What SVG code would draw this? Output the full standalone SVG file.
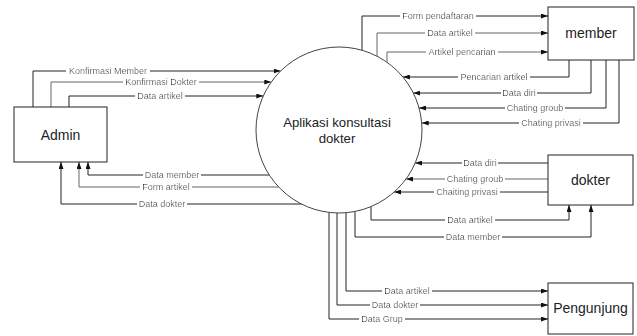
<svg xmlns="http://www.w3.org/2000/svg" width="637" height="336" viewBox="0 0 637 336">
<style>
.box{fill:#fff;stroke:#222;stroke-width:1}
.proc{fill:#fff;stroke:#444;stroke-width:1}
.nt{font-family:"Liberation Sans",Arial,sans-serif;font-size:14px;fill:#222;text-anchor:middle}
.pt{font-family:"Liberation Sans",Arial,sans-serif;font-size:13.2px;fill:#222;text-anchor:middle}
.ln{fill:none;stroke:#222;stroke-width:1}
.gr{stroke:#666}
.lb{font-family:"Liberation Sans",Arial,sans-serif;font-size:9px;fill:#111;text-anchor:middle;filter:url(#bg)}
</style>
<defs>
<marker id="ar" markerWidth="7" markerHeight="5" refX="7" refY="2.5" orient="auto" markerUnits="userSpaceOnUse">
<path d="M0,0 L7,2.5 L0,5 z" fill="#111"/>
</marker>
<filter id="bg" x="-0.03" y="0" width="1.06" height="1">
<feFlood flood-color="#fff"/>
<feComposite in="SourceGraphic"/>
</filter>
</defs>
<rect width="637" height="336" fill="#fff"/>
<g id="connectors">
<polyline class="ln" points="33,107 33,71 280.6,71" marker-end="url(#ar)"/>
<polyline class="ln gr" points="51,107 51,82 271.3,82" marker-end="url(#ar)"/>
<polyline class="ln" points="69,107 69,96 263.3,96" marker-end="url(#ar)"/>
<polyline class="ln" points="269.3,175 88,175 88,162" marker-end="url(#ar)"/>
<polyline class="ln gr" points="278.7,187 79,187 79,162" marker-end="url(#ar)"/>
<polyline class="ln" points="301.4,204 61,204 61,162" marker-end="url(#ar)"/>
<polyline class="ln" points="362,50.3 362,16 548,16" marker-end="url(#ar)"/>
<polyline class="ln gr" points="377,56.2 377,33 548,33" marker-end="url(#ar)"/>
<polyline class="ln gr" points="387,62.3 387,52 548,52" marker-end="url(#ar)"/>
<polyline class="ln" points="569,60 569,77 402.9,77" marker-end="url(#ar)"/>
<polyline class="ln" points="591,60 591,93 413.3,93" marker-end="url(#ar)"/>
<polyline class="ln" points="606,60 606,108 419,108" marker-end="url(#ar)"/>
<polyline class="ln" points="619,60 619,123 421.7,123" marker-end="url(#ar)"/>
<polyline class="ln" points="548,163 415.2,163" marker-end="url(#ar)"/>
<polyline class="ln gr" points="548,179 406,179" marker-end="url(#ar)"/>
<polyline class="ln" points="548,192 394.2,192" marker-end="url(#ar)"/>
<polyline class="ln" points="371,206.6 371,220 569,220 569,205" marker-end="url(#ar)"/>
<polyline class="ln" points="355,211.4 355,237 591,237 591,205" marker-end="url(#ar)"/>
<polyline class="ln" points="346,212.7 346,291 548,291" marker-end="url(#ar)"/>
<polyline class="ln" points="337,213 337,305 548,305" marker-end="url(#ar)"/>
<polyline class="ln" points="329,212.4 329,319 548,319" marker-end="url(#ar)"/>
<text class="lb" x="108" y="74">Konfirmasi Member</text>
<text class="lb" x="161" y="85">Konfirmasi Dokter</text>
<text class="lb" x="160" y="99">Data artikel</text>
<text class="lb" x="172" y="178">Data member</text>
<text class="lb" x="166" y="190">Form artikel</text>
<text class="lb" x="162" y="207">Data dokter</text>
<text class="lb" x="438" y="19">Form pendaftaran</text>
<text class="lb" x="450" y="36">Data artikel</text>
<text class="lb" x="462" y="55">Artikel pencarian</text>
<text class="lb" x="494" y="80">Pencarian artikel</text>
<text class="lb" x="519" y="96">Data diri</text>
<text class="lb" x="535" y="111">Chating groub</text>
<text class="lb" x="551" y="126">Chating privasi</text>
<text class="lb" x="480" y="166">Data diri</text>
<text class="lb" x="475" y="182">Chating groub</text>
<text class="lb" x="467" y="195">Chaiting privasi</text>
<text class="lb" x="470" y="223">Data artikel</text>
<text class="lb" x="473" y="240">Data member</text>
<text class="lb" x="407" y="294">Data artikel</text>
<text class="lb" x="395" y="308">Data dokter</text>
<text class="lb" x="382" y="322">Data Grup</text>
</g>
<g id="admin">
<rect class="box" x="14" y="107" width="93" height="55"/>
<text class="nt" x="60.5" y="139.5">Admin</text>
</g>
<g id="aplikasi">
<circle class="proc" cx="339" cy="130" r="83"/>
<text class="pt" x="337" y="127">Aplikasi konsultasi</text>
<text class="pt" x="337" y="143">dokter</text>
</g>
<g id="member">
<rect class="box" x="548" y="7" width="86" height="53"/>
<text class="nt" x="591" y="38">member</text>
</g>
<g id="dokter">
<rect class="box" x="548" y="155" width="85" height="50"/>
<text class="nt" x="590.5" y="185">dokter</text>
</g>
<g id="pengunjung">
<rect class="box" x="548" y="283" width="85" height="51"/>
<text class="nt" x="590.5" y="313">Pengunjung</text>
</g>
</svg>
